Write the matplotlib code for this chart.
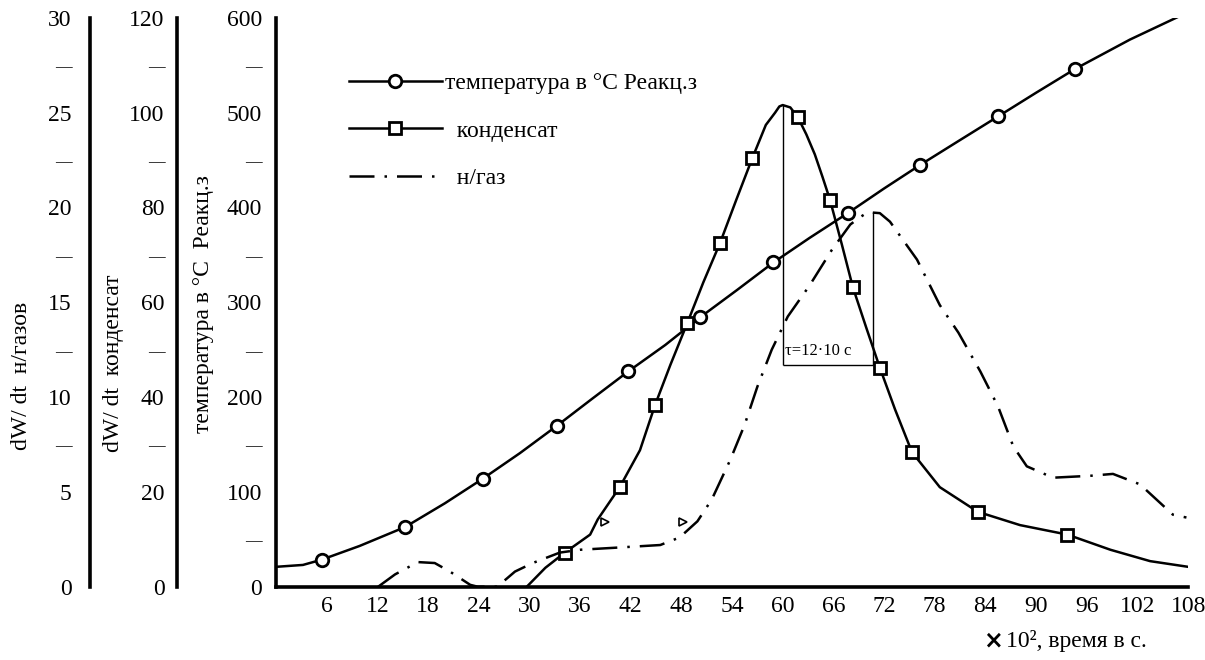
import matplotlib
matplotlib.use("Agg")
import matplotlib.pyplot as plt

plt.rcParams['font.family'] = ['Liberation Serif', 'DejaVu Serif']
plt.rcParams['font.size'] = 17

# temperature, deg C (main axis 0..600)
temp_x = [0, 3.2, 5.4, 9.9, 15.3, 20, 24.5, 28.9, 33.3, 37.4, 41.7, 46.1, 50.2, 54.6,
          58.9, 63.2, 67.7, 72, 76.3, 80.8, 85.5, 90, 94.6, 101.1, 108]
temp_y = [21, 23, 28.5, 43, 63, 88, 114, 141, 170, 198, 227, 255, 284, 313,
          342, 368, 394, 420, 445, 470, 496, 521, 546, 577, 606]
temp_marks = [2, 4, 6, 8, 10, 12, 14, 16, 18, 20, 22]

# condensate, dW/dt (0..120 axis)
cond_x = [29.7, 31.9, 34.2, 37.2, 38.1, 40.7, 43.1, 44.9, 46.7, 48.7, 50.6, 52.6, 54.5,
          56.4, 58.0, 59.1, 59.6, 60.0, 60.9, 61.8, 62.8, 63.8, 64.7, 65.6, 67.0, 68.3,
          69.9, 71.5, 73.3, 75.3, 78.6, 83.1, 88.1, 93.7, 98.8, 103.5, 108]
cond_y = [0, 4, 7.2, 11, 14.2, 21, 28.8, 38.4, 46.8, 55.6, 64.2, 72.6, 81.6,
          90.4, 97.4, 100, 101.3, 101.6, 101.1, 99, 95.4, 91.2, 86.5, 81.6, 72.2, 63.2,
          54.6, 46.2, 37.4, 28.4, 21, 15.8, 13, 11, 7.8, 5.4, 4.2]
cond_marks = [2, 5, 7, 9, 11, 13, 19, 23, 25, 27, 29, 31, 33]

# gas, dW/dt (0..30 axis)
gas_x = [12.1, 14.1, 16.8, 18.8, 20.6, 23.0, 23.9, 26.2, 28.3, 30.4, 33.6, 36.0, 39.9,
         45.5, 47.8, 49.9, 51.6, 53.8, 55.5, 57.0, 58.7, 60.6, 63.2, 65.8, 68.0, 69.2,
         70.1, 71.5, 72.7, 73.1, 75.9, 78.6, 80.8, 83.4, 85.5, 87.3, 88.9, 92.0, 96.4,
         99.1, 102.3, 106.2, 107.8]
gas_y = [0, 0.65, 1.3, 1.25, 0.8, 0.1, 0, 0, 0.8, 1.25, 1.8, 1.95, 2.05,
         2.2, 2.6, 3.45, 4.6, 6.7, 8.55, 10.55, 12.5, 14.25, 15.9, 17.75, 19.1, 19.5,
         19.75, 19.7, 19.25, 19.0, 17.25, 14.85, 13.4, 11.35, 9.5, 7.4, 6.35, 5.75, 5.85,
         5.95, 5.4, 3.8, 3.65]

# stray marker glyphs near the foot of the peaks (main axis units)
stray_x = [39.0, 48.2]
stray_y = [68.6, 68.6]

# tau bracket between the two peaks
tau_x = [60.0, 70.7]
tau_top = [508, 395]
tau_base = 234
tau_text = "τ=12·10 с"

x_ticks = list(range(6, 109, 6))
temp_ticks = [0, 50, 100, 150, 200, 250, 300, 350, 400, 450, 500, 550, 600]
cond_ticks = [0, 20, 30, 40, 50, 60, 70, 80, 90, 100, 110, 120]
gas_ticks = [0, 5, 7.5, 10, 12.5, 15, 17.5, 20, 22.5, 25, 27.5, 30]


def tick_labels(ticks, step):
    out = []
    for t in ticks:
        if t % step == 0:
            out.append("%g" % t)
        else:
            out.append("—")
    return out


def shrink_dashes(a):
    for lab in a.get_yticklabels():
        if lab.get_text() == "—":
            lab.set_fontsize(12)


fig = plt.figure(figsize=(12.05, 6.6), dpi=100)
ax = fig.add_axes([0.229, 0.111, 0.757, 0.862])
ax_c = ax.twinx()
ax_g = ax.twinx()

ax.set_xlim(0, 108)
ax.set_ylim(0, 600)
ax_c.set_ylim(0, 120)
ax_g.set_ylim(0, 30)

for a in (ax, ax_c, ax_g):
    for s in a.spines.values():
        s.set_visible(False)

ax.spines['left'].set_visible(True)
ax.spines['bottom'].set_visible(True)
ax.spines['left'].set_linewidth(2.6)
ax.spines['bottom'].set_linewidth(2.6)

for a, pos in ((ax_c, -0.1086), (ax_g, -0.204)):
    a.yaxis.tick_left()
    a.spines['left'].set_visible(True)
    a.spines['left'].set_position(('axes', pos))
    a.spines['left'].set_linewidth(2.6)

ax.set_xticks(x_ticks)
ax.set_xticklabels([str(t) for t in x_ticks])
ax.tick_params(axis='x', length=0, pad=7)

ax.set_yticks(temp_ticks)
ax.set_yticklabels(tick_labels(temp_ticks, 100))
ax.tick_params(axis='y', length=0, pad=10)

ax_c.set_yticks(cond_ticks)
ax_c.set_yticklabels(tick_labels(cond_ticks, 20))
ax_c.tick_params(axis='y', length=0, pad=9, left=False, right=False,
                 labelleft=True, labelright=False)

ax_g.set_yticks(gas_ticks)
ax_g.set_yticklabels(tick_labels(gas_ticks, 5))
ax_g.tick_params(axis='y', length=0, pad=13, left=False, right=False,
                 labelleft=True, labelright=False)

for a in (ax, ax_c, ax_g):
    shrink_dashes(a)

l_temp, = ax.plot(temp_x, temp_y, color='black', lw=1.8, marker='o', ms=9,
                  mfc='white', mec='black', mew=2, markevery=temp_marks)
l_cond, = ax_c.plot(cond_x, cond_y, color='black', lw=1.8, marker='s', ms=9,
                    mfc='white', mec='black', mew=2, markevery=cond_marks)
l_gas, = ax_g.plot(gas_x, gas_y, color='black', lw=1.8, dashes=(10, 4, 1, 4))
ax.plot(stray_x, stray_y, ls='none', marker='>', ms=6, mfc='white', mec='black', mew=1.2)

ax.vlines(tau_x, tau_base, tau_top, color='black', lw=1)
ax.hlines(tau_base, tau_x[0], tau_x[1], color='black', lw=1)
ax.text(tau_x[0] + 0.3, tau_base + 6, tau_text, fontsize=12, va='bottom', ha='left')

fig.legend([l_temp, l_cond, l_gas],
           ["температура в °С Реакц.з", "  конденсат", "  н/газ"],
           loc='upper left', bbox_to_anchor=(0.290, 0.890), frameon=False,
           handlelength=3.9, handletextpad=0.15, labelspacing=1.1,
           borderpad=0, borderaxespad=0, numpoints=1)

fig.text(0.018, 0.43, "dW/ dt  н/газов", rotation=90, ha='center', va='center')
fig.text(0.094, 0.45, "dW/ dt  конденсат", rotation=90, ha='center', va='center')
fig.text(0.169, 0.54, "температура в °С  Реакц.з", rotation=90, ha='center', va='center')

fig.text(0.816, 0.029, "×", family='DejaVu Sans', fontweight='bold', ha='left', va='center')
fig.text(0.835, 0.029, "10², время в с.", ha='left', va='center')

fig.savefig("out.png", dpi=100)
